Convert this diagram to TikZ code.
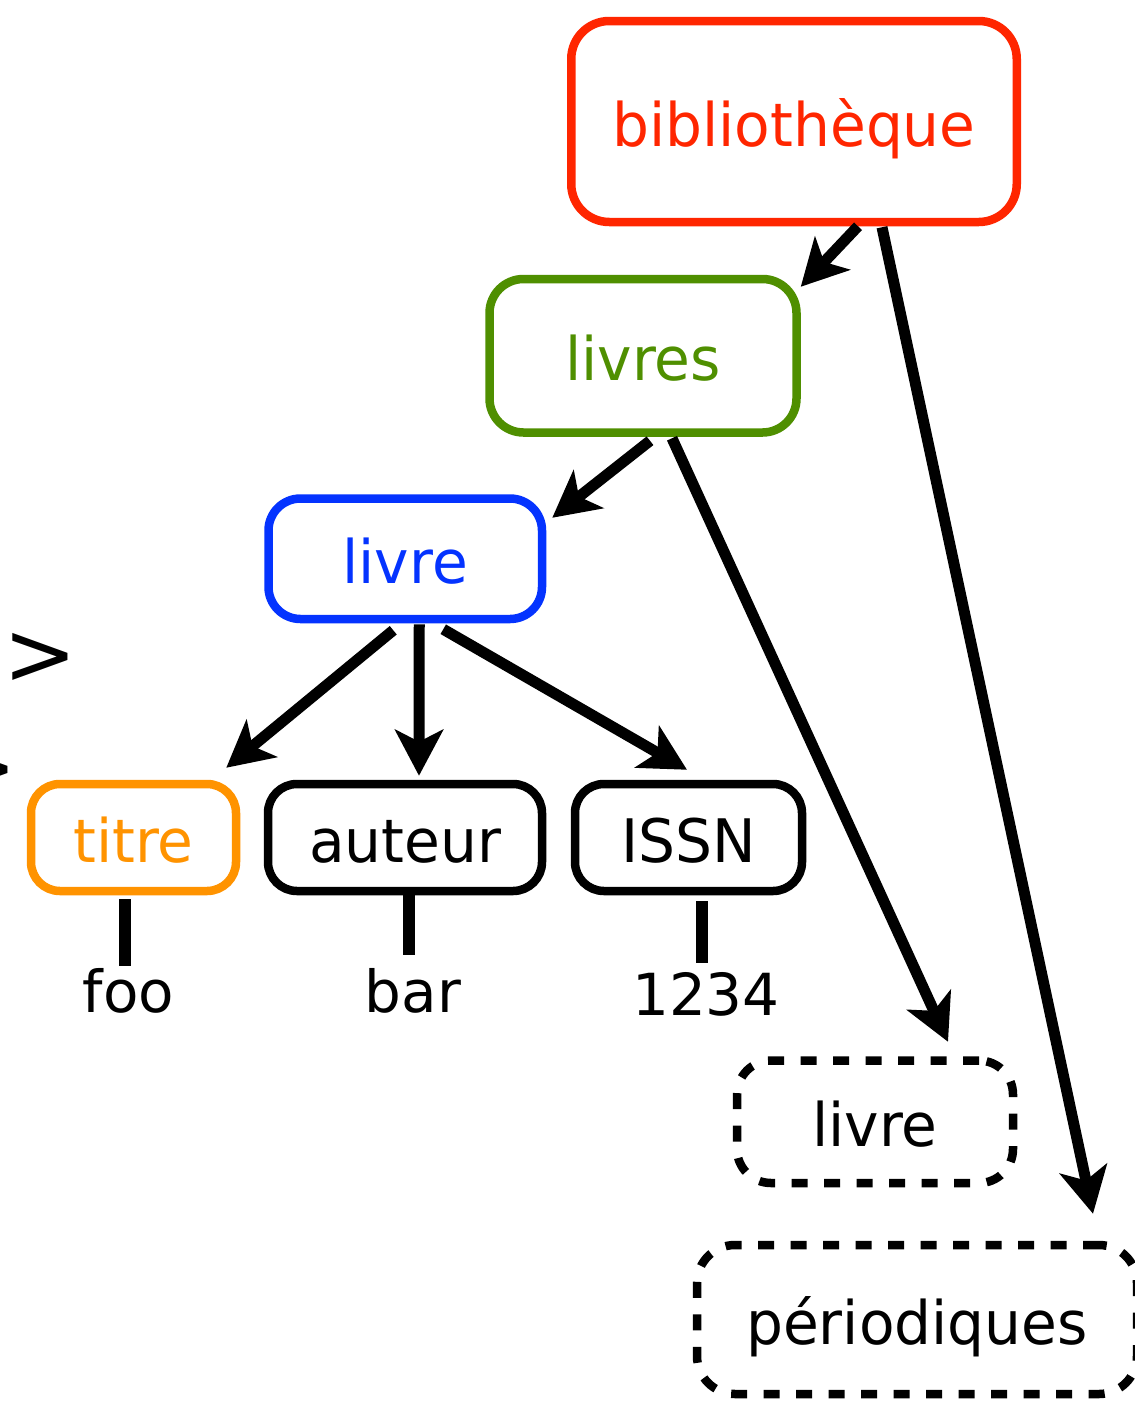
\documentclass[tikz,border=0pt]{standalone}
\usepackage{fontspec}
\setmainfont{DejaVu Sans}
\newfontfamily\boxfont[FakeStretch=0.97]{DejaVu Sans}
\usetikzlibrary{arrows.meta,calc}
\definecolor{cred}{RGB}{255,38,0}
\definecolor{cgreen}{RGB}{79,143,0}
\definecolor{cblue}{RGB}{4,51,255}
\definecolor{corange}{RGB}{255,147,0}
\begin{document}
\begin{tikzpicture}[x=1pt,y=-1pt,
  box/.style={draw, line width=8.5pt, rounded corners=#1, inner sep=0pt,
    text height=50pt, text depth=0pt,
    font=\boxfont\fontsize{60}{72}\selectfont},
  box/.default=32pt,
  dbox/.style={box=#1, dash pattern=on 16pt off 16.5pt},
  dbox/.default=34pt,
  leaf/.style={inner sep=0pt, font=\fontsize{58}{70}\selectfont},
  frag/.style={inner sep=0pt, font=\fontsize{88}{100}\selectfont, anchor=base east},
  arr/.style={line width=11pt, -{Stealth[length=46pt,width=48pt,inset=12pt]}},
  stem/.style={line width=11.5pt}]
\useasboundingbox (0,0) rectangle (1135,1414);
\fill[white] (0,0) rectangle (1135,1414);

% nodes
\node[box=38pt, draw=cred, text=cred, minimum width=445.5pt, minimum height=201pt] (bib) at (794,121.5) {bibliothèque};
\node[box=34pt, draw=cgreen, text=cgreen, minimum width=307pt, minimum height=153.5pt] (livres) at (643,355.75) {livres};
\node[box=32pt, draw=cblue, text=cblue, minimum width=273.5pt, minimum height=120.5pt] (livre) at (405.25,558.75) {livre};
\node[box=29pt, draw=corange, text=corange, minimum width=205pt, minimum height=107pt] (titre) at (133.5,837.5) {titre};
\node[box=29pt, minimum width=274pt, minimum height=107pt] (auteur) at (405,837.5) {auteur};
\node[box=29pt, minimum width=227pt, minimum height=107pt] (issn) at (688.5,837.5) {ISSN};
\node[dbox=34pt, minimum width=276pt, minimum height=122.5pt] (livred) at (875,1121.75) {livre};
\node[dbox=38pt, minimum width=440pt, minimum height=149pt] (per) at (917,1319.5) {périodiques};

% leaf values
\node[leaf, anchor=base] (foo) at (128.5,1012) {foo};
\node[leaf, anchor=base] (bar) at (413,1012) {bar};
\node[leaf, anchor=base] (num) at (706,1015) {1234};

% clipped fragments at the left edge
\node[frag] (g1) at (77,684) {>};
\node[frag] (g2) at (17.5,797.5) {>};

% arrows
\draw[arr] ($(bib.south)+(64,0)$) -- ($(livres.north east)+(0,12)$);
\draw[arr] ($(bib.south)+(88,1)$) -- ($(per.north)+(176,-27)$);
\draw[arr] ($(livres.south)+(7,4)$) -- ($(livre.north east)+(6,23.5)$);
\draw[arr] ($(livres.south)+(29,1.5)$) -- ($(livred.north)+(73,-14.5)$);
\draw[arr] ($(livre.south)+(-12,7)$) -- ($(titre.north east)+(-14,-12)$);
\draw[arr] ($(livre.south)+(14,1)$) -- ($(auteur.north)+(14,-4)$);
\draw[arr] ($(livre.south)+(38,6)$) -- ($(issn.north)+(-1.5,-10)$);

% stems
\draw[stem] ($(titre.south)+(-8.5,4)$) -- ($(foo.north)+(-3.5,-2)$);
\draw[stem] ($(auteur.south)+(4,-3)$) -- ($(bar.north)+(-4,-13)$);
\draw[stem] ($(issn.south)+(13.5,6)$) -- ($(num.north)+(-4,-9)$);
\end{tikzpicture}
\end{document}
